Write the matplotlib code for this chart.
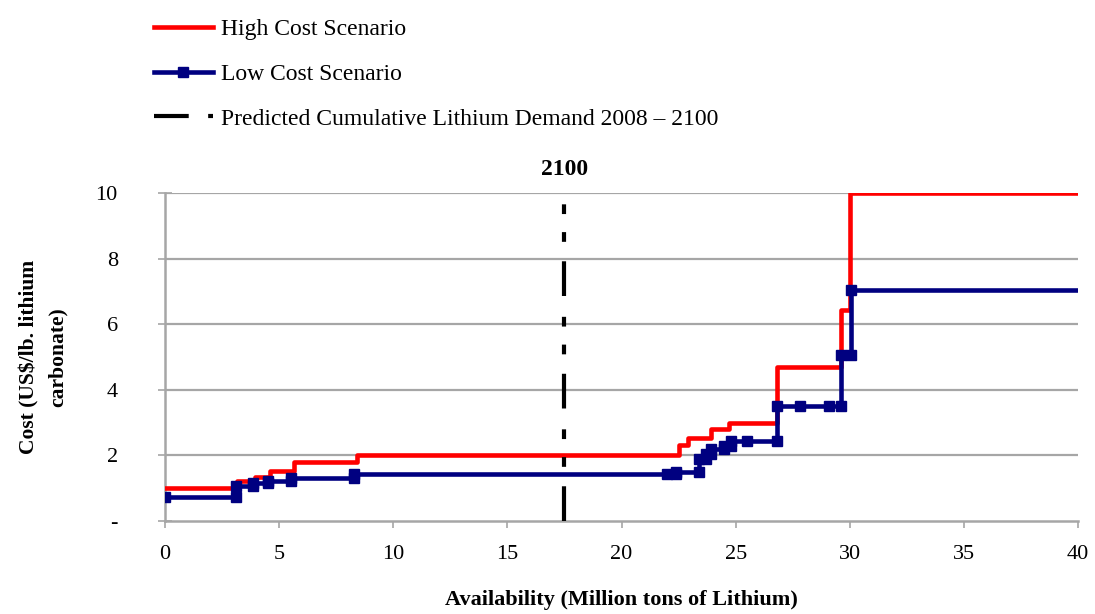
import numpy as np
import matplotlib
matplotlib.use('Agg')
import matplotlib.pyplot as plt

plt.rcParams['font.family'] = ['Liberation Serif', 'DejaVu Serif']

# high cost scenario, step breakpoints (x = availability, y = cost)
high_x = [0, 3.15, 3.95, 4.6, 5.65, 8.4, 22.5, 22.9, 23.9, 24.7, 26.8, 29.6, 30.0, 40]
high_y = [1.0, 1.23, 1.34, 1.52, 1.8, 2.02, 2.32, 2.52, 2.8, 2.98, 4.7, 6.43, 10.0, 10.0]

# low cost scenario, points as plotted (with markers)
low_x = [0, 3.1, 3.1, 3.85, 3.85, 4.5, 4.5, 5.5, 5.5, 8.3, 8.3, 22.0, 22.4, 22.4,
         23.4, 23.4, 23.7, 23.7, 23.9, 23.9, 24.5, 24.5, 24.8, 24.8, 25.5, 26.8,
         26.8, 27.8, 29.1, 29.6, 29.6, 30.05, 30.05, 40]
low_y = [0.72, 0.72, 1.07, 1.07, 1.15, 1.15, 1.22, 1.22, 1.3, 1.3, 1.43, 1.43, 1.43, 1.5,
         1.5, 1.9, 1.9, 2.05, 2.05, 2.2, 2.2, 2.3, 2.3, 2.45, 2.45, 2.45,
         3.5, 3.5, 3.5, 3.5, 5.05, 5.05, 7.03, 7.03]

demand_x = 17.5
demand_top = 9.8

x_ticks = [0, 5, 10, 15, 20, 25, 30, 35, 40]
y_ticks = [0, 2, 4, 6, 8, 10]
y_labels = ['-', '2', '4', '6', '8', '10']

fig = plt.figure(figsize=(10.95, 6.14), dpi=100)
ax = fig.add_axes([0.1507, 0.1515, 0.8338, 0.5342])

grid_col = '#a6a6a6'
for yv in y_ticks[1:]:
    ax.axhline(yv, color=grid_col, lw=1.6, zorder=1)

ax.plot(high_x, high_y, drawstyle='steps-post', color='#ff0000', lw=3.3,
        label='High Cost Scenario', zorder=3)
ax.plot(low_x, low_y, color='#000080', lw=3.3, marker='s', markersize=7,
        markevery=list(range(len(low_x) - 1)), label='Low Cost Scenario', zorder=4)

plt.rcParams['lines.scale_dashes'] = False
ax.plot([demand_x, demand_x], [0, demand_top], color='black', lw=3,
        dashes=(25, 14, 7, 13, 7, 15), solid_capstyle='butt', dash_capstyle='butt',
        label='Predicted Cumulative Lithium Demand 2008 \u2013 2100', zorder=5)
ax.text(demand_x, 10.4, '2100', ha='center', va='bottom', fontsize=17,
        fontweight='bold')

ax.set_xlim(0, 40)
ax.set_ylim(0, 10)
ax.set_xticks(x_ticks)
ax.set_yticks(y_ticks)
ax.set_yticklabels(y_labels)

for s in ['top', 'right']:
    ax.spines[s].set_visible(False)
for s in ['left', 'bottom']:
    ax.spines[s].set_color(grid_col)
    ax.spines[s].set_linewidth(1.8)

ax.tick_params(axis='x', direction='out', length=5, width=1.2, color=grid_col,
               labelsize=16, pad=12)
ax.tick_params(axis='y', direction='inout', length=10, width=1.2, color=grid_col,
               labelsize=16, pad=29)

ax.set_xlabel('Availability (Million tons of Lithium)', fontsize=16,
              fontweight='bold', labelpad=19)
ax.set_ylabel('Cost (US$/lb. lithium\ncarbonate)', fontsize=15.5,
              fontweight='bold', labelpad=20, linespacing=1.55)

fig.legend(loc='upper left', bbox_to_anchor=(0.123, 1.0), frameon=False,
           fontsize=17, handlelength=2.5, handletextpad=0.35, labelspacing=0.98,
           borderaxespad=0.4)

fig.savefig('out.png', dpi=100)
